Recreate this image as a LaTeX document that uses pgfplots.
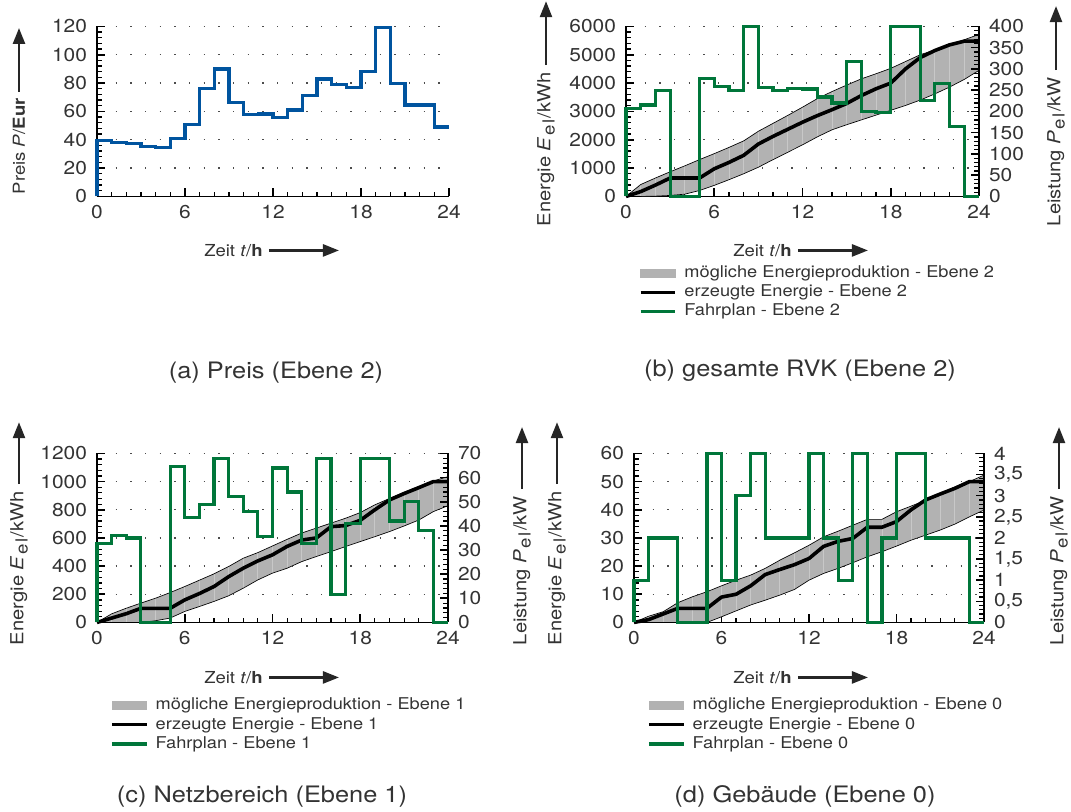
\documentclass[border=0pt]{standalone}
\usepackage{fontspec}
\setmainfont[FakeStretch=1.12]{TeX Gyre Heros}
\usepackage{pgfplots}
\usepackage{pgfplotstable}
\pgfplotsset{compat=1.18}
\usepgfplotslibrary{fillbetween}
\usetikzlibrary{arrows.meta}
\definecolor{pblue}{RGB}{0,84,159}
\definecolor{pgreen}{RGB}{0,118,58}
\definecolor{bandgray}{RGB}{178,178,178}
\definecolor{stripe}{RGB}{200,200,200}
\definecolor{txt}{RGB}{51,51,51}
\newcommand\tickfont{\fontsize{14}{15}\selectfont}
\newcommand\labfont{\fontsize{12.4}{14}\selectfont}
\newcommand\elabfont{\fontsize{13.5}{15}\selectfont}
\newcommand\legfont{\fontsize{12.2}{14}\selectfont}
\newcommand\capfont{\fontsize{17}{20}\selectfont}
\newcommand\el{\kern1pt\raisebox{-0.45ex}{\fontsize{12.5}{12}\selectfont$\mathrm{e}\mkern3mu\mathrm{l}$}\kern1.5pt}

\pgfplotstableread{
h up lo e
0 0 0 0
1 420 0 170
2 650 10 400
3 870 35 650
4 1080 80 650
5 1300 210 650
6 1510 390 975
7 1730 590 1200
8 1960 800 1450
9 2300 1030 1850
10 2580 1300 2120
11 2860 1560 2370
12 3150 1820 2620
13 3450 2100 2850
14 3700 2350 3060
15 3930 2530 3280
16 4150 2700 3560
17 4330 2870 3800
18 4520 3040 4000
19 4760 3210 4500
20 5000 3400 4900
21 5170 3620 5150
22 5350 3860 5350
23 5530 4130 5480
24 5720 4450 5480
}\tabB

\pgfplotstableread{
h up lo e
0 0 0 0
1 61 0 31
2 101 0 62
3 137 0 100
4 172 12 100
5 212 31 100
6 255 78 160
7 300 113 205
8 345 149 255
9 397 189 325
10 456 243 385
11 496 302 437
12 543 350 480
13 590 385 540
14 635 432 585
15 670 468 600
16 705 503 680
17 740 539 688
18 780 574 725
19 835 609 800
20 880 645 870
21 925 685 915
22 965 727 957
23 1005 787 1000
24 1035 829 1000
}\tabC

\pgfplotstableread{
h up lo e
0 0 0 0
1 2.2 0 1
2 3.8 0 3
3 7 0 5
4 9.1 0 5
5 10.9 0 5
6 13 2 9
7 15 4.1 10
8 16.8 6.2 13
9 19.2 7.9 17
10 22.1 9.7 18.8
11 24.7 11.7 20.5
12 27.4 15 22.7
13 30.4 17.4 27
14 32.4 19.2 28.8
15 34.5 21.2 29.8
16 36.6 23.3 33.8
17 36.6 25.1 33.8
18 39.3 27.1 35.8
19 41.3 29.2 40
20 43.4 31 43.5
21 45.8 32.8 45.6
22 48.1 34.9 47.6
23 50 37.5 50
24 52.3 39.9 50
}\tabD

\pgfplotsset{
  base/.style={
    scale only axis, clip=false,
    xmin=0, xmax=24, ymin=0,
    xtick={0,6,12,18,24}, minor x tick num=5,
    tick align=inside,
    major tick length=6pt, minor tick length=3.5pt,
    axis line style={line width=1.3pt, black},
    major tick style={line width=1.2pt, black},
    minor tick style={line width=0.9pt, black},
    tick label style={font=\tickfont, text=txt},
    /pgf/number format/assume math mode=true,
    /pgf/number format/1000 sep={},
    xticklabel style={yshift=-3pt},
  },
  leftax/.style={base, axis x line*=bottom, axis y line*=left, ymajorgrids,
    yticklabel style={xshift=-4pt},
    major grid style={line width=1pt, dash pattern=on 0.9pt off 10.1pt, dash phase=8pt, black!70}},
  rightax/.style={base, axis x line=none, axis y line*=right,
    yticklabel style={xshift=4pt},
    legend cell align=left,
    legend style={anchor=north west, draw=none, fill=none, font=\legfont, text=txt,
      inner sep=0pt, row sep=1.6pt,
      nodes={inner sep=0.6pt, text height=9pt, text depth=2.6pt},
      /tikz/every odd column/.append style={column sep=5pt}}},
  bandimg/.style={legend image code/.code={\fill[bandgray] (0pt,-3pt) rectangle (26pt,3pt);}},
  blkimg/.style={legend image code/.code={\draw[black,line width=2.5pt] (0pt,0pt)--(26pt,0pt);}},
  grnimg/.style={legend image code/.code={\draw[pgreen,line width=2.3pt] (0pt,0pt)--(26pt,0pt);}},
  bordr/.style={black, line width=0.5pt},
  combs/.style={draw=none, mark=none, forget plot, error bars/.cd, y dir=both, y explicit,
     error mark=none, error bar style={line width=0.6pt, stripe}},
  eline/.style={black, line width=2.7pt, line join=round},
  gline/.style={pgreen, line width=2.4pt, const plot, line join=miter},
}
\tikzset{arr/.style={line width=1.8pt, black!85, -{Triangle[length=12pt,width=9pt]}},
  lab/.style={inner sep=0pt, font=\labfont, text=txt},
  elab/.style={inner sep=0pt, font=\elabfont, text=txt}}

\begin{document}
\begin{tikzpicture}
\path (0,0) rectangle (803.25pt,-608.25pt);

% ---------------- (a)
\begin{axis}[leftax, at={(72.75pt,-147pt)}, anchor=south west, width=264pt, height=127.5pt,
  ymax=120, ytick={0,20,...,120}, minor y tick num=4]
\addplot[pblue, line width=2.4pt, const plot, line join=miter] coordinates {
(0,0)(0,39.5)(1,38.3)(2,37.3)(3,35.4)(4,34.5)(5,40.8)(6,51)(7,76)(8,90)(9,66.5)(10,57.7)(11,58.2)(12,55.9)(13,61)(14,71)(15,82.9)(16,78.9)(17,76.8)(18,88)(19,119.2)(20,79.8)(21,64.6)(22,64.6)(23,49)(24,49)};
\end{axis}

% ---------------- (b)
\begin{axis}[leftax, at={(469.5pt,-147pt)}, anchor=south west, width=264.75pt, height=127.5pt,
  ymax=6000, ytick={0,1000,...,6000}, minor y tick num=4]
\addplot[name path=upB, draw=none] table[x=h,y=up]{\tabB};
\addplot[name path=loB, draw=none] table[x=h,y=lo]{\tabB};
\addplot[bandgray] fill between[of=upB and loB];
\addplot[combs] table[x=h, y expr=(\thisrow{up}+\thisrow{lo})/2, y error expr=(\thisrow{up}-\thisrow{lo})/2]{\tabB};
\addplot[bordr] table[x=h,y=up]{\tabB};
\addplot[bordr] table[x=h,y=lo]{\tabB};
\addplot[eline] table[x=h,y=e]{\tabB};
\end{axis}
\begin{axis}[rightax, at={(469.5pt,-147pt)}, anchor=south west, width=264.75pt, height=127.5pt,
  ymax=400, ytick={0,50,...,400}, minor y tick num=4,
  legend style={at={(0.036,-0.40)}}]
\addlegendimage{bandimg}\addlegendentry{mögliche Energieproduktion - Ebene 2}
\addlegendimage{blkimg}\addlegendentry{erzeugte Energie - Ebene 2}
\addplot[gline, grnimg] coordinates {
(0,0)(0,207)(1,215)(2,250)(3,0)(4,0)(5,278)(6,258)(7,250)(8,400)(9,257)(10,250)(11,254)(12,253)(13,234)(14,220)(15,318)(16,200)(17,197)(18,400)(19,400)(20,225)(21,266)(22,165)(23,0)(24,0)};
\addlegendentry{Fahrplan - Ebene 2}
\end{axis}

% ---------------- (c)
\begin{axis}[leftax, at={(72.75pt,-466.5pt)}, anchor=south west, width=263.25pt, height=126.75pt,
  ymax=1200, ytick={0,200,...,1200}, minor y tick num=4]
\addplot[name path=upC, draw=none] table[x=h,y=up]{\tabC};
\addplot[name path=loC, draw=none] table[x=h,y=lo]{\tabC};
\addplot[bandgray] fill between[of=upC and loC];
\addplot[combs] table[x=h, y expr=(\thisrow{up}+\thisrow{lo})/2, y error expr=(\thisrow{up}-\thisrow{lo})/2]{\tabC};
\addplot[bordr] table[x=h,y=up]{\tabC};
\addplot[bordr] table[x=h,y=lo]{\tabC};
\addplot[eline] table[x=h,y=e]{\tabC};
\end{axis}
\begin{axis}[rightax, at={(72.75pt,-466.5pt)}, anchor=south west, width=263.25pt, height=126.75pt,
  ymax=70, ytick={0,10,...,70}, minor y tick num=4,
  legend style={at={(0.037,-0.44)}}]
\addlegendimage{bandimg}\addlegendentry{mögliche Energieproduktion - Ebene 1}
\addlegendimage{blkimg}\addlegendentry{erzeugte Energie - Ebene 1}
\addplot[gline, grnimg] coordinates {
(0,0)(0,32.8)(1,36)(2,35)(3,0)(4,0)(5,64.5)(6,43.5)(7,49)(8,68)(9,52)(10,46)(11,35.5)(12,64)(13,54)(14,32.8)(15,68)(16,11.5)(17,41)(18,68)(19,68)(20,42)(21,50)(22,38)(23,0)(24,0)};
\addlegendentry{Fahrplan - Ebene 1}
\end{axis}

% ---------------- (d)
\begin{axis}[leftax, at={(475.5pt,-466.5pt)}, anchor=south west, width=262.5pt, height=126.75pt,
  ymax=60, ytick={0,10,...,60}, minor y tick num=4]
\addplot[name path=upD, draw=none] table[x=h,y=up]{\tabD};
\addplot[name path=loD, draw=none] table[x=h,y=lo]{\tabD};
\addplot[bandgray] fill between[of=upD and loD];
\addplot[combs] table[x=h, y expr=(\thisrow{up}+\thisrow{lo})/2, y error expr=(\thisrow{up}-\thisrow{lo})/2]{\tabD};
\addplot[bordr] table[x=h,y=up]{\tabD};
\addplot[bordr] table[x=h,y=lo]{\tabD};
\addplot[eline] table[x=h,y=e]{\tabD};
\end{axis}
\begin{axis}[rightax, at={(475.5pt,-466.5pt)}, anchor=south west, width=262.5pt, height=126.75pt,
  ymax=4, ytick={0,0.5,...,4}, minor y tick num=4,
  /pgf/number format/use comma,
  legend style={at={(0.037,-0.44)}}]
\addlegendimage{bandimg}\addlegendentry{mögliche Energieproduktion - Ebene 0}
\addlegendimage{blkimg}\addlegendentry{erzeugte Energie - Ebene 0}
\addplot[gline, grnimg] coordinates {
(0,0)(0,1)(1,2)(2,2)(3,0)(4,0)(5,4)(6,1)(7,3)(8,4)(9,2)(10,2)(11,2)(12,4)(13,2)(14,1)(15,4)(16,0)(17,2)(18,4)(19,4)(20,2)(21,2)(22,2)(23,0)(24,0)};
\addlegendentry{Fahrplan - Ebene 0}
\end{axis}

% ---------------- labels
\begin{scope}[x=0.75pt, y=-0.75pt]
% (a)
\node[lab, rotate=90, anchor=west] (a1) at (19,194) {Preis \textit{P}/\textbf{Eur}};
\draw[arr] (a1.east) ++(0,-6) -- ++(0,-64);
\node[lab, anchor=west] (ax) at (204,250) {Zeit \textit{t}/\textbf{h}};
\draw[arr] (ax.east) ++(6,0) -- ++(70,0);
\node[font=\capfont, text=txt] at (276,372) {(a) Preis (Ebene 2)};
% (b)
\node[elab, rotate=90, anchor=west] (b1) at (546,226) {Energie \textit{E}\el/kWh};
\draw[arr] (b1.east) ++(0,-7) -- ++(0,-64);
\node[elab, rotate=90, anchor=west] (b2) at (1056,226) {Leistung \textit{P}\el/kW};
\draw[arr] (b2.east) ++(0,-7) -- ++(0,-64);
\node[lab, anchor=west] (bx) at (733,250) {Zeit \textit{t}/\textbf{h}};
\draw[arr] (bx.east) ++(6,0) -- ++(70,0);
\node[font=\capfont, text=txt] at (800,370) {(b) gesamte RVK (Ebene 2)};
% (c)
\node[elab, rotate=90, anchor=west] (c1) at (19,645) {Energie \textit{E}\el/kWh};
\draw[arr] (c1.east) ++(0,-7) -- ++(0,-62);
\node[elab, rotate=90, anchor=west] (c2) at (522,645) {Leistung \textit{P}\el/kW};
\draw[arr] (c2.east) ++(0,-7) -- ++(0,-62);
\node[lab, anchor=west] (cx) at (204,677) {Zeit \textit{t}/\textbf{h}};
\draw[arr] (cx.east) ++(6,0) -- ++(70,0);
\node[font=\capfont, text=txt] at (262,796) {(c) Netzbereich (Ebene 1)};
% (d)
\node[elab, rotate=90, anchor=west] (d1) at (557,645) {Energie \textit{E}\el/kWh};
\draw[arr] (d1.east) ++(0,-7) -- ++(0,-62);
\node[elab, rotate=90, anchor=west] (d2) at (1059,645) {Leistung \textit{P}\el/kW};
\draw[arr] (d2.east) ++(0,-7) -- ++(0,-62);
\node[lab, anchor=west] (dx) at (733,677) {Zeit \textit{t}/\textbf{h}};
\draw[arr] (dx.east) ++(6,0) -- ++(70,0);
\node[font=\capfont, text=txt] at (805,796) {(d) Gebäude (Ebene 0)};
\end{scope}
\end{tikzpicture}
\end{document}
